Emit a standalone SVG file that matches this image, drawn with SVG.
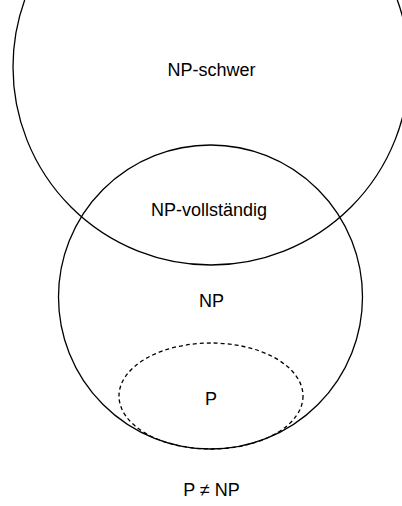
<svg xmlns="http://www.w3.org/2000/svg" width="402" height="506" viewBox="0 0 402 506">
<style>
.c{fill:none;stroke:#000;stroke-width:1.3}
.d{fill:none;stroke:#000;stroke-width:1.3;stroke-dasharray:4,3}
text{font-family:"Liberation Sans",Arial,sans-serif;font-size:18px;fill:#000;text-anchor:middle}
</style>
<rect width="402" height="506" fill="#fff"/>
<g id="np-schwer"><circle class="c" cx="211" cy="67" r="198"/><text x="211.5" y="76">NP-schwer</text></g>
<g id="np"><circle class="c" cx="210.5" cy="297" r="152"/><text x="211.5" y="307">NP</text></g>
<g id="np-vollstaendig"><text x="209" y="216">NP-vollständig</text></g>
<g id="p"><ellipse class="d" cx="211" cy="396" rx="92" ry="53"/><text x="211" y="405">P</text></g>
<g id="caption"><text x="211.5" y="496">P ≠ NP</text></g>
<g id="connectors"></g>
</svg>
